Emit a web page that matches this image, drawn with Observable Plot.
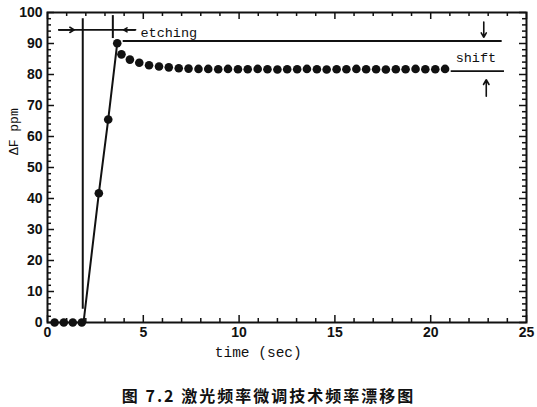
<!DOCTYPE html>
<html><head><meta charset="utf-8">
<script src="https://cdn.jsdelivr.net/npm/d3@7"></script>
<script src="https://cdn.jsdelivr.net/npm/@observablehq/plot@0.6"></script>
<style>
body{margin:0;background:#fff;}
#wrap{position:relative;width:537px;height:407px;background:#fff;}
#cap{position:absolute;left:0;width:537px;top:383px;text-align:center;font-family:"Noto Sans CJK SC";font-weight:bold;font-size:16px;letter-spacing:2px;color:#111;}
</style></head><body>
<div id="wrap"><div id="chart"></div><div id="cap">图 7.2 激光频率微调技术频率漂移图</div></div>
<script>
// measured points (time in sec, ΔF in ppm)
const times = [0.37, 0.85, 1.32, 1.79, 2.68, 3.17, 3.64, 3.86, 4.30, 4.79,
  5.30, 5.82, 6.33, 6.85, 7.36, 7.88, 8.39, 8.91, 9.42, 9.94, 10.45, 10.97, 11.48, 12.00,
  12.51, 13.03, 13.54, 14.06, 14.57, 15.09, 15.60, 16.12, 16.63, 17.15, 17.66, 18.18,
  18.69, 19.21, 19.72, 20.24, 20.75];
const values = [0, 0, 0, 0, 41.7, 65.5, 90.1, 86.5, 84.8, 83.8,
  83.0, 82.6, 82.3, 82.0, 81.9, 81.8, 81.8, 81.7, 81.8, 81.7, 81.7, 81.8, 81.7, 81.6,
  81.7, 81.7, 81.8, 81.7, 81.6, 81.7, 81.7, 81.8, 81.7, 81.7, 81.6, 81.7,
  81.7, 81.8, 81.7, 81.7, 81.8];
// rising segment drawn as a line
const riseTimes = [1.88, 2.68, 3.17, 3.64];
const riseValues = [0, 41.7, 65.5, 90.1];
// etching markers
const markerTimes = [1.84, 3.41];
const markerTops = [98.0, 99.0];
const markerBottoms = [4.3, 91.6];
const etchLevel = [94.4];
const etchSpan = [0.59, 4.6];
const etchArrowFrom = [0.59, 4.6];
const etchArrowTo = [1.40, 3.97];
// shift lines
const upperLevel = [90.8];
const upperSpan = [3.95, 23.73];
const lowerLevel = [81.1];
const lowerSpan = [21.07, 23.85];
const downArrow = {x: 22.77, from: 96.9, to: 92.0};
const upArrow = {x: 22.9, from: 73.0, to: 78.3};
// tick labels
const xMajor = [0, 5, 10, 15, 20, 25];
const xMinor = [1,2,3,4,6,7,8,9,11,12,13,14,16,17,18,19,21,22,23,24];
const yMajor = [0, 10, 20, 30, 40, 50, 60, 70, 80, 90, 100];
const yMinor = [2,4,6,8,12,14,16,18,22,24,26,28,32,34,36,38,42,44,46,48,52,54,56,58,62,64,66,68,72,74,76,78,82,84,86,88,92,94,96,98];

const pts = times.map((t, i) => ({t, v: values[i]}));
const rise = riseTimes.map((t, i) => ({t, v: riseValues[i]}));
const markers = markerTimes.map((t, i) => ({t, top: markerTops[i], bottom: markerBottoms[i]}));
const etchArrows = etchArrowFrom.map((x1, i) => ({x1, x2: etchArrowTo[i], y: etchLevel[0]}));

const W = 537, H = 370, ML = 47, MR = 11, MT = 12, MB = 48;
const IW = W - ML - MR, IH = H - MT - MB;
const mono = "Liberation Mono";

const chart = Plot.plot({
  width: W, height: H, marginLeft: ML, marginRight: MR, marginTop: MT, marginBottom: MB,
  x: {domain: [0, 25]},
  y: {domain: [0, 100]},
  style: {fontFamily: "Liberation Sans", background: "#fff", color: "#111"},
  marks: [
    Plot.axisX(xMajor, {tickSize: 0, tickPadding: 5, fontSize: 14, fontWeight: "bold", label: null}),
    Plot.axisY(yMajor, {tickSize: 0, tickPadding: 5, fontSize: 14, fontWeight: "bold", label: null}),
    // inward ticks
    Plot.ruleX(xMinor, {x: d => d, insetTop: IH - 4, strokeWidth: 1.5}),
    Plot.ruleX(xMajor, {x: d => d, insetTop: IH - 7, strokeWidth: 1.5}),
    Plot.ruleX(xMinor, {x: d => d, insetBottom: IH - 4, strokeWidth: 1.5}),
    Plot.ruleX(xMajor, {x: d => d, insetBottom: IH - 7, strokeWidth: 1.5}),
    Plot.ruleY(yMinor, {y: d => d, insetRight: IW - 4, strokeWidth: 1.5}),
    Plot.ruleY(yMajor, {y: d => d, insetRight: IW - 7, strokeWidth: 1.5}),
    Plot.ruleY(yMinor, {y: d => d, insetLeft: IW - 4, strokeWidth: 1.5}),
    Plot.ruleY(yMajor, {y: d => d, insetLeft: IW - 7, strokeWidth: 1.5}),
    Plot.frame({strokeWidth: 2, stroke: "#111"}),
    // annotations
    Plot.ruleX(markers, {x: "t", y1: "top", y2: "bottom", strokeWidth: 2, stroke: "#111"}),
    Plot.ruleY(etchLevel, {y: d => d, x1: etchSpan[0], x2: etchSpan[1], strokeWidth: 1.6, stroke: "#111"}),
    Plot.arrow(etchArrows, {x1: "x1", x2: "x2", y1: "y", y2: "y", headLength: 7, strokeWidth: 1.6, stroke: "#111"}),
    Plot.ruleY(upperLevel, {y: d => d, x1: upperSpan[0], x2: upperSpan[1], strokeWidth: 1.8, stroke: "#111"}),
    Plot.ruleY(lowerLevel, {y: d => d, x1: lowerSpan[0], x2: lowerSpan[1], strokeWidth: 1.8, stroke: "#111"}),
    Plot.arrow([downArrow, upArrow], {x1: "x", x2: "x", y1: "from", y2: "to", headLength: 7, strokeWidth: 1.6, stroke: "#111"}),
    Plot.text(["etching"], {x: 4.85, y: 93.6, text: d => d, textAnchor: "start", fontFamily: mono, fontSize: 13.5, fill: "#111"}),
    Plot.text(["shift"], {x: 22.36, y: 85.3, text: d => d, fontFamily: mono, fontSize: 13.5, fill: "#111"}),
    // data
    Plot.line(rise, {x: "t", y: "v", strokeWidth: 2, stroke: "#111"}),
    Plot.dot(pts, {x: "t", y: "v", r: 4.3, fill: "#111", stroke: "none"}),
    // axis titles
    Plot.text(["time (sec)"], {x: 11, frameAnchor: "bottom", dy: 34, text: d => d, fontFamily: mono, fontSize: 14.5, fill: "#111"}),
    Plot.text(["ΔF ppm"], {y: 54, frameAnchor: "left", dx: -34, rotate: -90, text: d => d, fontFamily: mono, fontSize: 13, fill: "#111"})
  ]
});
document.getElementById("chart").appendChild(chart);
</script>
</body></html>
